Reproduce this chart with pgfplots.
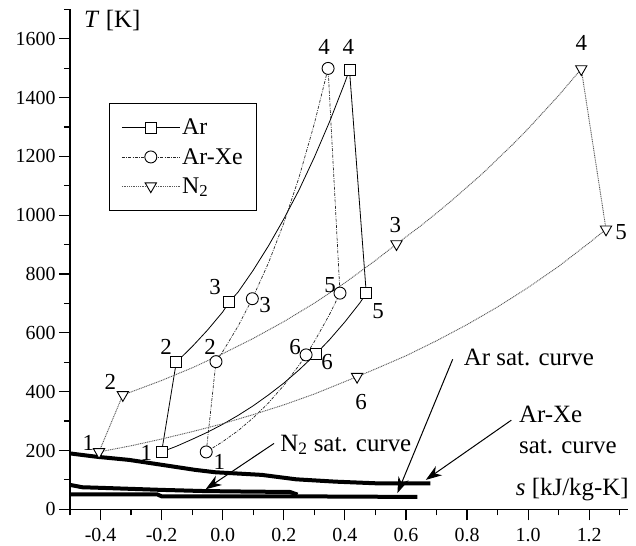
\documentclass[border=0pt]{standalone}
\usepackage{fontspec}
\setmainfont{Liberation Serif}
\usepackage{pgfplots}
\pgfplotsset{compat=1.18}
\usetikzlibrary{arrows.meta}
\tikzset{
  arstyle/.style={black, solid, line width=0.8bp},
  arxestyle/.style={black!85, dash pattern=on 3bp off 1.3bp on 0.8bp off 1.3bp, line width=0.7bp},
  n2style/.style={black!65, dash pattern=on 1bp off 0.8bp, line width=0.9bp},
  mk/.style={solid, fill=white, draw=black, line width=0.9bp},
  sat/.style={black, line width=4bp, line join=round},
  arr/.style={black, line width=1bp, -{Stealth[length=16bp, width=11bp, inset=5bp]}},
  lab/.style={inner sep=0pt, font=\fontsize{23}{25}\selectfont},
  big/.style={inner sep=0pt, font=\fontsize{25}{29}\selectfont},
}
\pgfplotsset{
  longlegend/.style={legend image code/.code={\draw[mark repeat=2,mark phase=2,##1] plot coordinates {(0cm,0cm) (1.02cm,0cm) (2.04cm,0cm)};}},
}
\begin{document}
\begin{tikzpicture}
\begin{axis}[
  scale only axis, width=558bp, height=500bp,
  xmin=-0.5, xmax=1.327, ymin=0, ymax=1700,
  axis lines=left, axis line style={-, line width=1.2bp},
  tick align=outside,
  major tick length=11bp, minor tick length=6bp,
  every tick/.style={black, line width=1.2bp},
  xtick={-0.4,-0.2,0,0.2,0.4,0.6,0.8,1.0,1.2},
  minor xtick={-0.5,-0.3,-0.1,0.1,0.3,0.5,0.7,0.9,1.1,1.3},
  ytick={0,200,400,600,800,1000,1200,1400,1600},
  minor ytick={100,300,500,700,900,1100,1300,1500,1700},
  scaled ticks=false,
  x tick label style={/pgf/number format/.cd, fixed, fixed zerofill, precision=1, /tikz/.cd, yshift=-4bp},
  y tick label style={/pgf/number format/.cd, fixed, 1000 sep={}, /tikz/.cd},
  /pgf/number format/assume math mode=true,
  tick label style={font=\fontsize{20}{22}\selectfont},
  clip=false,
  legend cell align=left,
  legend style={at={(axis cs:-0.3725,1383)}, anchor=north west, draw=black, line width=1bp,
    font=\fontsize{24}{26}\selectfont, row sep=8bp, inner xsep=12bp, inner ysep=14bp,
    nodes={inner sep=2bp}},
]
% saturation curves
\addplot[sat, forget plot] coordinates {(-0.5,190) (-0.416,179) (-0.307,168) (-0.198,151) (-0.09,134) (-0.025,126) (0.128,117) (0.24,102) (0.369,94) (0.512,88) (0.68,88)};
\addplot[sat, forget plot] coordinates {(-0.5,83) (-0.46,75) (-0.4,73) (-0.2,66) (-0.06,62) (0.1,60) (0.22,59) (0.245,50)};
\addplot[sat, forget plot] coordinates {(-0.5,51) (-0.215,51) (-0.2,44) (0.25,44) (0.637,42)};

% Ar cycle
\addplot[arstyle, forget plot] coordinates {(-0.2,195) (-0.152,500) (-0.1,553) (-0.05,609) (0,671) (0.022,706) (0.05,738) (0.1,813) (0.15,896) (0.2,987) (0.25,1086) (0.3,1197) (0.35,1318) (0.4,1451) (0.415,1495) (0.47,735) (0.45,703) (0.4,637) (0.35,577) (0.305,528) (0.25,474) (0.2,429) (0.15,389) (0.1,352) (0.05,319) (0,289) (-0.05,262) (-0.1,238) (-0.15,215) (-0.2,195)};
\addplot[only marks, mark=square*, mark size=5.5bp, mark options={mk}, forget plot] coordinates {(-0.2,195) (-0.152,500) (0.022,706) (0.415,1495) (0.47,735) (0.305,528)};

% Ar-Xe cycle
\addplot[arxestyle, forget plot] coordinates {(-0.054,195) (-0.022,502) (0,536) (0.05,622) (0.097,716) (0.15,838) (0.2,973) (0.25,1129) (0.3,1311) (0.345,1499) (0.384,735) (0.35,663) (0.3,570) (0.273,525) (0.25,490) (0.2,421) (0.15,362) (0.1,311) (0.05,267) (0,230) (-0.054,195)};
\addplot[only marks, mark=*, mark size=6bp, mark options={mk}, forget plot] coordinates {(-0.054,195) (-0.022,502) (0.097,716) (0.345,1499) (0.384,735) (0.273,525)};

% N2 cycle
\addplot[n2style, forget plot] coordinates {(-0.405,195) (-0.327,389) (-0.3,399) (-0.2,438) (-0.1,481) (0,529) (0.1,581) (0.2,638) (0.3,701) (0.4,770) (0.5,846) (0.569,902) (0.65,965) (0.7,1007) (0.75,1050) (0.85,1141) (0.95,1241) (1.0,1294) (1.1,1407) (1.174,1497) (1.255,952) (1.2,906) (1.1,826) (1.0,754) (0.9,688) (0.8,628) (0.7,573) (0.6,522) (0.5,477) (0.44,451) (0.3,392) (0.2,355) (0.1,322) (0,291) (-0.1,264) (-0.2,239) (-0.3,216) (-0.405,195)};
\addplot[only marks, mark=triangle*, mark size=6.5bp, mark options={mk, rotate=180}, forget plot] coordinates {(-0.405,195) (-0.327,389) (0.569,902) (1.174,1497) (1.255,952) (0.44,451)};

\addlegendimage{arstyle, mark=square*, mark size=5.5bp, mark options={mk}, longlegend}
\addlegendentry{Ar}
\addlegendimage{arxestyle, mark=*, mark size=6bp, mark options={mk}, longlegend}
\addlegendentry{Ar-Xe}
\addlegendimage{n2style, mark=triangle*, mark size=6.5bp, mark options={mk, rotate=180}, longlegend}
\addlegendentry{N\textsubscript{2}\rule[-9bp]{0pt}{9bp}}

% state labels
\node[lab] at (axis cs:-0.25,191) {1};
\node[lab] at (axis cs:-0.185,552) {2};
\node[lab] at (axis cs:-0.025,756) {3};
\node[lab] at (axis cs:0.411,1572) {4};
\node[lab] at (axis cs:0.509,674) {5};
\node[lab] at (axis cs:0.342,501) {6};
\node[lab] at (axis cs:-0.011,161) {1};
\node[lab] at (axis cs:-0.041,552) {2};
\node[lab] at (axis cs:0.139,694) {3};
\node[lab] at (axis cs:0.332,1572) {4};
\node[lab] at (axis cs:0.352,763) {5};
\node[lab] at (axis cs:0.237,552) {6};
\node[lab] at (axis cs:-0.44,225) {1};
\node[lab] at (axis cs:-0.368,433) {2};
\node[lab] at (axis cs:0.565,967) {3};
\node[lab] at (axis cs:1.174,1585) {4};
\node[lab] at (axis cs:1.304,943) {5};
\node[lab] at (axis cs:0.453,365) {6};

% annotations
\draw[arr] (axis cs:0.168,224) -- (axis cs:-0.056,68);
\draw[arr] (axis cs:0.753,510) -- (axis cs:0.572,55);
\draw[arr] (axis cs:0.945,303) -- (axis cs:0.665,100);
\node[big, anchor=west] at (axis cs:0.188,219) {N\textsubscript{2} sat. curve};
\node[big, anchor=west] at (axis cs:0.789,517) {Ar sat. curve};
\node[big, anchor=west, align=left] at (axis cs:0.970,270) {Ar-Xe\\[2bp]sat. curve};
\node[big, anchor=east] at (axis cs:1.33,66) {\textit{s} [kJ/kg-K]};
\node[big, anchor=west] at (axis cs:-0.454,1662) {\textit{T} [K]};

% bounding box to match the reference margins
\path (rel axis cs:0,0) ++(-70bp,-36.7bp);
\path (rel axis cs:1,1) ++(8bp,9.3bp);
\end{axis}
\end{tikzpicture}
\end{document}
